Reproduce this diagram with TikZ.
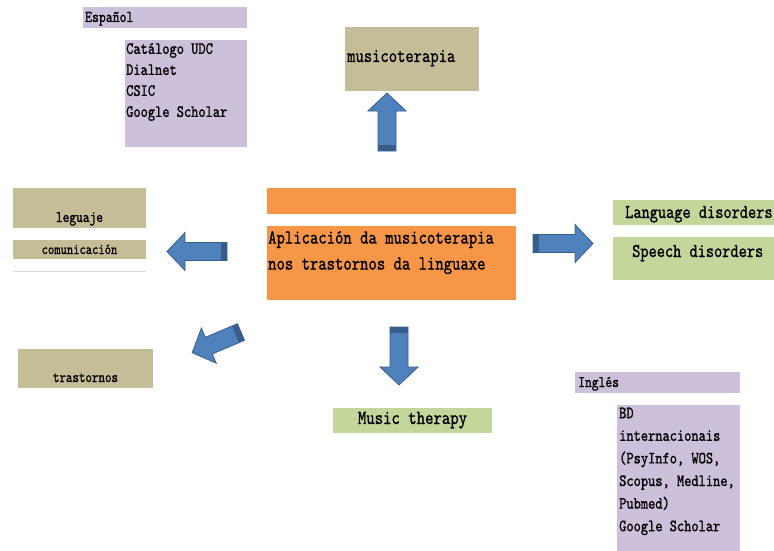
\documentclass[tikz,border=0pt]{standalone}
\usepackage{amsmath}
\usepackage{fontspec}
\usepackage{tikz}
\usepackage{color}
\usetikzlibrary{positioning}
\usetikzlibrary{calc}
\newfontfamily\cond[FakeStretch=0.8,FakeBold=1]{lmmono10-regular.otf}
\definecolor{lila}{RGB}{204,192,218}
\definecolor{caqui}{RGB}{196,189,151}
\definecolor{laranxa}{RGB}{247,150,70}
\definecolor{verde}{RGB}{195,214,155}
\definecolor{azul}{RGB}{79,129,189}
\definecolor{azulescuro}{RGB}{56,93,138}
\tikzset{caixa/.style={inner sep=0pt,anchor=north west},
texto/.style={inner sep=0pt,font=\cond\fontsize{#1}{#1}\selectfont},
lista/.style={inner sep=0pt,align=left,anchor=north west,font=\cond\fontsize{17.2}{#1}\selectfont}}
\newcommand{\frecha}[4]{%
\begin{scope}[shift={(#1,#2)},rotate=#3]
\filldraw[fill=azul,draw=azulescuro,line width=0.8pt] (0,-9) -- (#4-18,-9) -- (#4-18,-19) -- (#4,0) -- (#4-18,19) -- (#4-18,9) -- (0,9) -- cycle;
\fill[azulescuro] (0.4,-8.6) rectangle (6,8.6);
\end{scope}}

\begin{document}
\begin{tikzpicture}[x=1pt,y=-1pt]
\useasboundingbox (0,0) rectangle (774,551);
\node[caixa,fill=lila,minimum width=164,minimum height=21] (espanol) at (83,7) {};
\node[texto=16.4,anchor=base west] (tespanol) at (85,22) {Español};
\node[caixa,fill=lila,minimum width=122,minimum height=107] (fontes) at (125,40) {};
\node[lista=21] (tfontes) at (126,43) {Catálogo UDC\\Dialnet\\CSIC\\Google Scholar};
\node[caixa,fill=caqui,minimum width=134,minimum height=64] (musico) at (345,27) {};
\node[texto=19.8,anchor=base west] (tmusico) at (347,62) {musicoterapia};
\node[caixa,fill=caqui,minimum width=133,minimum height=40] (leguaje) at (13,188) {};
\node[texto=16,anchor=base] (tleguaje) at (79.5,222) {leguaje};
\node[caixa,fill=caqui,minimum width=133,minimum height=19] (comunica) at (13,240) {};
\node[texto=15,anchor=base] (tcomunica) at (79.5,254) {comunicación};
\draw[black!15,line width=0.8pt] (13,271) -- (146,271);
\node[caixa,fill=laranxa,minimum width=249,minimum height=26] (barra) at (267,188) {};
\node[caixa,fill=laranxa,minimum width=249,minimum height=74] (tema) at (267,226) {};
\node[inner sep=0pt,align=left,anchor=north west,font=\cond\fontsize{19.9}{26}\selectfont] (ttema) at (268,231) {Aplicación da musicoterapia\\nos trastornos da linguaxe};
\node[caixa,fill=verde,minimum width=161,minimum height=25] (language) at (613,200) {};
\node[texto=19.5,anchor=base west] (tlanguage) at (625,218) {Language disorders};
\node[caixa,fill=verde,minimum width=161,minimum height=43] (speech) at (613,237) {};
\node[texto=19.5,anchor=base west] (tspeech) at (632,257) {Speech disorders};
\node[caixa,fill=caqui,minimum width=135,minimum height=39] (trastornos) at (18,349) {};
\node[texto=15.5,anchor=base] (ttrastornos) at (85.5,382) {trastornos};
\node[caixa,fill=verde,minimum width=159,minimum height=25] (therapy) at (333,408) {};
\node[texto=20,anchor=base] (ttherapy) at (412.5,424) {Music therapy};
\node[caixa,fill=lila,minimum width=165,minimum height=21] (ingles) at (575,372) {};
\node[texto=16.2,anchor=base west] (tingles) at (578,387) {Inglés};
\node[caixa,fill=lila,minimum width=123,minimum height=146] (bases) at (617,405) {};
\node[lista=22.6] (tbases) at (619,407.5) {BD\\internacionais\\(PsyInfo, WOS,\\Scopus, Medline,\\Pubmed)\\Google Scholar};
\frecha{387}{151}{90}{58}
\frecha{399}{327}{270}{58}
\frecha{227}{251.5}{180}{60}
\frecha{533}{243.5}{0}{60}
\frecha{241}{332}{203}{53}
\end{tikzpicture}
\end{document}
